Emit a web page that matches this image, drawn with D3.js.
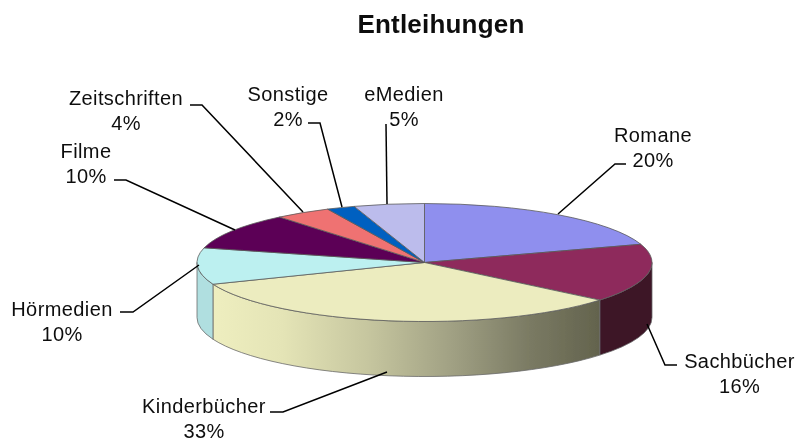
<!DOCTYPE html>
<html>
<head>
<meta charset="utf-8">
<script src="https://cdn.jsdelivr.net/npm/d3@7"></script>
<style>
    html, body { margin: 0; padding: 0; background: #fff; }
    svg { display: block; }
    text { font-family: "Liberation Sans", Arial, sans-serif; fill: #111; }
</style>
</head>
<body>
<svg id="canvas"></svg>
<script>
const title = "Entleihungen";
const categories = ["Romane", "Sachbücher", "Kinderbücher", "Hörmedien", "Filme", "Zeitschriften", "Sonstige", "eMedien"];
const shares = [20, 16, 33, 10, 10, 4, 2, 5];
const topColors = ["#8f8fee", "#8e2b5b", "#ececbf", "#bcf0f0", "#5c0057", "#ef7272", "#0060c0", "#bcbcec"];

// label block centre + baseline of first line, leader polyline runs label -> pie
const labelLayout = [
    { x: 653, y: 142, line: [[626, 164], [615, 164], [558, 214]] },
    { x: 739.5, y: 368, line: [[677, 365], [665, 365], [647, 324]] },
    { x: 204, y: 413, line: [[270, 412], [283, 412], [387, 372]] },
    { x: 62, y: 316, line: [[120, 312], [133, 312], [199, 265]] },
    { x: 86, y: 158, line: [[114, 180], [126, 180], [235, 230]] },
    { x: 126, y: 105, line: [[190, 105], [202, 105], [303, 212]] },
    { x: 288, y: 101, line: [[308, 123], [320, 123], [342, 207]] },
    { x: 404, y: 101, line: [[386, 124], [386, 124], [387, 204]] }
];

const width = 797;
const height = 438;
const cx = 424.5, cy = 262.5, rx = 227.5, ry = 59, depth = 55;
const fontSize = 20;
const lineGap = 24.5;

const svg = d3.select("#canvas").attr("width", width).attr("height", height).attr("viewBox", `0 0 ${width} ${height}`);

const defs = svg.append("defs");
defs.append("filter").attr("id", "soft").append("feGaussianBlur").attr("stdDeviation", 0.35);

const kinderGrad = defs.append("linearGradient").attr("id", "kinderSide")
    .attr("gradientUnits", "userSpaceOnUse")
    .attr("x1", 213).attr("x2", 600).attr("y1", 0).attr("y2", 0);
[[0, "#eeeebf"], [0.18, "#e4e4b6"], [0.4, "#c6c69f"], [0.62, "#a0a083"], [0.82, "#7a7a63"], [1, "#63634d"]]
    .forEach(s => kinderGrad.append("stop").attr("offset", s[0]).attr("stop-color", s[1]));

const sideColors = ["none", "#3c1226", "url(#kinderSide)", "#b0dfe0", "none", "none", "none", "none"];

const pie = d3.pie().sort(null);
const slices = pie(shares);

const px = a => cx + rx * Math.sin(a);
const py = a => cy - ry * Math.cos(a);

function sidePath(a0, a1) {
    return `M${px(a0)},${py(a0)}A${rx},${ry} 0 0 0 ${px(a1)},${py(a1)}`
        + `L${px(a1)},${py(a1) + depth}A${rx},${ry} 0 0 1 ${px(a0)},${py(a0) + depth}Z`;
}

const pieGroup = svg.append("g").attr("filter", "url(#soft)");

// walls only show on the front half of the disc
pieGroup.append("g").selectAll("path")
    .data(slices.filter(d => d.endAngle > Math.PI / 2 && d.startAngle < Math.PI * 1.5))
    .join("path")
    .attr("d", d => sidePath(Math.min(d.endAngle, Math.PI * 1.5), Math.max(d.startAngle, Math.PI / 2)))
    .attr("fill", d => sideColors[d.index])
    .attr("stroke", "#6a6a6a")
    .attr("stroke-width", 0.8);

const arc = d3.arc().innerRadius(0).outerRadius(rx);
pieGroup.append("g")
    .attr("transform", `translate(${cx},${cy}) scale(1,${ry / rx})`)
    .selectAll("path")
    .data(slices)
    .join("path")
    .attr("d", arc)
    .attr("fill", d => topColors[d.index])
    .attr("stroke", "#5a5a5a")
    .attr("stroke-width", 0.8)
    .attr("vector-effect", "non-scaling-stroke");

const line = d3.line();
svg.append("g").selectAll("path")
    .data(labelLayout)
    .join("path")
    .attr("d", d => line(d.line))
    .attr("fill", "none")
    .attr("stroke", "#000")
    .attr("stroke-width", 1.5);

const labels = svg.append("g")
    .attr("text-anchor", "middle")
    .attr("font-size", fontSize)
    .attr("letter-spacing", 0.4)
    .attr("filter", "url(#soft)");
categories.forEach((name, i) => {
    const pos = labelLayout[i];
    labels.append("text").attr("x", pos.x).attr("y", pos.y).text(name);
    labels.append("text").attr("x", pos.x).attr("y", pos.y + lineGap).text(shares[i] + "%");
});

svg.append("text")
    .attr("x", 441).attr("y", 33)
    .attr("text-anchor", "middle")
    .attr("font-size", 26)
    .attr("font-weight", "bold")
    .attr("letter-spacing", 0.2)
    .attr("filter", "url(#soft)")
    .text(title);
</script>
</body>
</html>
